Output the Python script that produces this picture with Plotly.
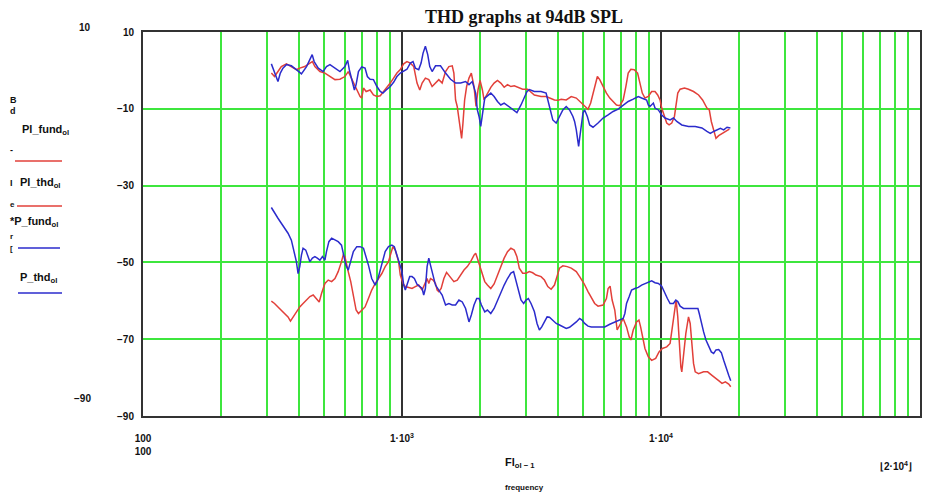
import plotly.graph_objects as go

# ---------------- data (frequency in Hz, level in dB) ----------------
freq_p1_fund = [313, 322, 332, 342, 358, 374, 391, 403, 421, 441, 451, 461, 482, 504, 527, 551, 576, 602, 620, 634,
                649, 669, 689, 699, 710, 727, 753, 776, 800, 824, 849, 874, 901, 928, 956, 985, 1015, 1045, 1077, 1110,
                1143, 1171, 1196, 1231, 1269, 1307, 1347, 1387, 1429, 1473, 1517, 1563, 1586, 1610, 1634, 1659, 1684, 1699, 1719, 1745,
                1776, 1814, 1852, 1897, 1931, 1966, 2002, 2044, 2074, 2137,
                2202, 2268, 2337, 2407, 2480, 2555, 2633, 2713, 2795, 2923,
                3057, 3149, 3243, 3342, 3443, 3601, 3710, 3879, 3997, 4117,
                4306, 4502, 4709, 4924, 5073, 5226, 5351, 5464, 5580, 5680,
                5800, 5975, 6156, 6342, 6533, 6731, 6934, 7144, 7316, 7471,
                7651, 7883, 8121, 8292, 8467, 8671, 8934, 9204, 9481, 9710,
                9914, 10063, 10305, 10522, 10745, 11003, 11268, 11405, 11608, 11854,
                12323, 12770, 13355, 13967, 14474, 15045, 15363, 15640, 15968, 16305,
                16699, 17200, 17723, 18365]
db_p1_fund = [-0.7, -1.6, -0.3, 1.0, 1.7, 1.0, 0.2, 0.6, 1.0, 1.9, 2.3, 1.0, -0.3, -0.7, -1.6, -2.4, -2.3, -1.6, -0.3, -1.6,
              -3.3, -5.1, -6.8, -7.2, -4.6, -5.5, -5.1, -6.4, -6.8, -6.6, -5.5, -4.6, -3.3, -2.0, -0.7, 0.2, 1.7, 2.3, 1.9, 1.0,
              -3.3, -5.1, -3.3, -2.0, -2.4, -4.2, -3.3, -2.4, -3.3, -0.3, 1.0, 1.2, -0.7, -7.7, -9.4, -12.9, -16.4, -17.7, -13.8, -7.7,
              -4.2, -2.0, -0.7, -4.2, -9.4, -5.0, -2.6, -5.1, -7.7, -5.9,
              -4.4, -3.3, -2.6, -3.3, -4.4, -3.7, -4.2, -4.0, -4.4, -4.9,
              -4.9, -5.7, -6.4, -6.6, -6.8, -6.8, -7.2, -7.7, -7.8, -7.5,
              -7.7, -6.8, -7.2, -8.5, -9.4, -10.1, -8.5, -5.9, -3.3, -1.6,
              -2.4, -4.2, -5.9, -7.2, -8.1, -9.0, -9.2, -7.7, -4.2, -0.7,
              0.3, 0.2, -0.7, -3.3, -5.9, -7.2, -6.8, -5.5, -5.5, -6.4,
              -7.7, -9.8, -12.0, -13.7, -14.2, -13.7, -12.0, -9.4, -5.9, -4.9,
              -4.6, -4.9, -5.5, -6.4, -7.7, -9.8, -10.3, -13.3, -15.9, -17.7,
              -17.0, -16.4, -15.9, -15.3]

freq_p1_thd = [313, 322, 332, 342, 352, 363, 371, 380, 391, 403, 415, 428, 441, 454, 468, 479, 489, 504, 519, 535,
               551, 567, 584, 593, 602, 611, 620, 634, 649, 665, 679, 699, 720, 742, 764, 788, 812, 836, 861, 887,
               906, 922, 942, 956, 970, 985, 1009, 1030, 1061, 1093, 1126, 1160, 1196, 1222, 1250, 1269, 1288, 1319, 1347, 1367,
               1387, 1416, 1451, 1486, 1517, 1549, 1586, 1634, 1684, 1735, 1787, 1841, 1897, 1925, 1954, 2002, 2044, 2087, 2137,
               2202, 2268, 2337, 2407, 2480, 2555, 2633, 2713, 2778, 2837,
               2923, 3012, 3103, 3196, 3292, 3443, 3547, 3655, 3765, 3879,
               3973, 4057, 4179, 4345, 4502, 4709, 4851, 5043, 5226, 5383,
               5546, 5714, 5975, 6156, 6248, 6361, 6476, 6631, 6771, 6934,
               7144, 7361, 7538, 7651, 7812, 8049, 8218, 8342, 8467, 8671,
               8934, 9204, 9538, 9826, 10123, 10522, 10842, 11069, 11268, 11438,
               11608, 11749, 11930, 12031, 12249, 12472, 12770, 12963, 13157, 13355,
               13555, 13967, 14605, 15135, 15733, 16207, 16699, 17200, 17723, 18256, 18590]
db_p1_thd = [-60.1, -60.7, -61.6, -62.4, -63.3, -64.2, -65.3, -64.2, -62.9, -61.6, -60.7, -59.8, -58.9, -58.5, -59.4, -60.3, -58.1, -55.5, -54.6, -55.0,
             -54.2, -52.4, -49.8, -48.1, -48.5, -50.7, -52.4, -55.0, -58.5, -62.4, -63.3, -62.4, -61.6, -59.4, -57.2, -55.5, -54.2, -52.9, -51.1, -49.8,
             -47.6, -45.9, -46.8, -48.1, -49.8, -53.3, -55.5, -56.3, -56.6, -56.8, -56.3, -55.9, -57.2, -55.7, -54.2, -55.5, -54.2, -54.6, -55.5, -57.2,
             -57.6, -56.8, -54.2, -52.6, -53.3, -54.2, -55.0, -54.6, -53.3, -52.0, -51.1, -49.8, -48.1, -47.6, -48.9, -51.1, -53.3, -55.0, -55.9,
             -56.8, -55.6, -53.3, -51.1, -48.9, -47.2, -46.3, -46.8, -48.5, -51.5,
             -52.8, -52.8, -52.4, -52.7, -53.3, -53.7, -54.6, -56.3, -57.0, -55.9,
             -53.3, -51.5, -50.9, -51.1, -51.5, -52.4, -53.7, -55.5, -57.6, -59.1,
             -60.7, -61.4, -61.1, -59.4, -56.8, -56.2, -59.8, -62.4, -67.6, -66.3,
             -64.6, -66.8, -69.4, -70.2, -67.6, -65.5, -65.0, -66.8, -69.4, -72.4,
             -74.6, -75.5, -75.0, -73.3, -72.4, -72.0, -71.1, -66.8, -62.4, -59.8,
             -64.2, -71.1, -77.2, -78.5, -73.7, -68.5, -64.2, -65.9, -71.1, -76.3,
             -78.5, -79.0, -78.5, -78.5, -79.4, -80.0, -80.8, -81.5, -81.1, -81.7, -82.4]

freq_p_fund = [313, 319, 327, 332, 339, 347, 358, 374, 391, 409, 428, 441, 450, 458, 475, 496, 511, 527, 551, 576,
               602, 617, 626, 639, 655, 665, 679, 699, 720, 735, 753, 776, 800, 824, 844, 869, 901, 928, 956, 985,
               1015, 1045, 1077, 1103, 1126, 1160, 1185, 1206, 1231, 1257, 1280, 1307, 1347, 1408, 1473, 1540, 1610, 1684, 1760, 1814,
               1868, 1925, 1954, 1984, 2014, 2050, 2087,
               2202, 2268, 2337, 2407, 2480, 2594, 2713, 2778, 2880, 2967,
               3039, 3103, 3243, 3443, 3601, 3710, 3822, 3938, 4057, 4179,
               4306, 4436, 4570, 4639, 4709, 4751, 4808, 4851, 4924, 4998,
               5073, 5195, 5304, 5464, 5714, 5975, 6248, 6533, 6832, 7144,
               7471, 7812, 8169, 8417, 8801, 8934, 9068, 9342, 9481, 9768,
               10063, 10366, 10842, 11169, 11507, 12031, 12770, 13555, 14388, 15045,
               15500, 15968, 16452, 16950, 17460, 17988, 18532]
db_p_fund = [1.7, 0.2, -1.7, -2.9, -0.7, 0.6, 1.5, 1.2, 0.2, -0.9, 1.0, 2.9, 4.1, 2.3, 0.6, -0.3, 1.0, 1.5, 0.6, -0.3,
             1.0, 2.6, 0.2, -2.4, -5.1, -3.7, -0.3, 0.9, 0.6, -1.6, -2.3, -2.4, -4.2, -5.5, -5.9, -5.1, -4.2, -3.1, -1.6, -0.7,
             -0.3, 0.3, 1.9, 2.3, 0.6, 0.2, 1.9, 4.5, 6.3, 4.1, 1.0, -0.3, 1.2, 1.2, -0.7, -2.3, -3.3, -3.3, -2.9, -3.7,
             -2.9, -5.9, -10.3, -12.0, -14.6, -10.7, -7.2,
             -5.9, -6.8, -8.1, -9.0, -8.5, -9.4, -10.3, -11.0, -9.0, -7.2,
             -5.5, -5.0, -5.5, -5.5, -5.9, -9.4, -12.9, -13.7, -12.0, -10.3,
             -9.4, -10.3, -12.0, -13.3, -15.5, -18.1, -19.8, -17.7, -14.6, -11.1,
             -10.3, -12.0, -14.2, -14.8, -13.7, -12.4, -11.6, -10.7, -10.1, -9.0,
             -8.1, -7.5, -6.8, -7.2, -7.7, -9.0, -9.4, -8.5, -9.8, -10.3,
             -11.6, -12.4, -12.9, -12.4, -13.3, -14.2, -14.6, -14.6, -15.0, -15.9,
             -16.4, -15.9, -15.5, -15.1, -15.5, -14.8, -15.0]

freq_p_thd = [313, 322, 332, 342, 352, 363, 374, 380, 386, 391, 397, 403, 409, 415, 425, 434, 441, 451, 461, 471,
              482, 493, 504, 511, 522, 535, 551, 567, 584, 596, 607, 620, 634, 649, 669, 689, 710, 727, 742, 764,
              788, 805, 824, 844, 861, 887, 914, 934, 956, 979, 1000, 1015, 1030, 1045, 1071, 1093, 1116, 1143, 1171, 1196,
              1213, 1231, 1250, 1269, 1288, 1319, 1347, 1387, 1429, 1473, 1517, 1563, 1610, 1659, 1709, 1760, 1814, 1852, 1897, 1943,
              1984, 2026, 2087, 2137,
              2202, 2268, 2337, 2407, 2480, 2555, 2633, 2697, 2754, 2812,
              2880, 2949, 3012, 3075, 3149, 3243, 3322, 3392, 3464, 3547,
              3633, 3710, 3822, 3938, 4057, 4179, 4306, 4436, 4570, 4709,
              4851, 4954, 5073, 5226, 5383, 5714, 6064, 6342, 6631, 6934,
              7144, 7252, 7361, 7538, 7697, 7930, 8169, 8417, 8671, 8934,
              9204, 9481, 9768, 10063, 10214, 10366, 10585, 10842, 11169, 11405,
              11608, 11854, 12213, 12770, 13355, 13884, 14050, 14302, 14605, 14912,
              15271, 15640, 15968, 16305, 16699, 17099, 17460, 17829, 18256, 18590]
db_p_thd = [-35.7, -37.2, -38.5, -39.8, -41.1, -42.4, -44.2, -46.3, -48.1, -49.8, -52.9, -51.1, -48.1, -46.3, -46.8, -48.5, -49.8, -48.9, -48.5, -48.9,
            -49.4, -48.5, -49.4, -47.2, -44.6, -43.7, -44.2, -44.6, -45.5, -48.1, -50.7, -52.0, -49.8, -47.2, -45.9, -45.9, -46.3, -48.5, -50.7, -54.2,
            -55.9, -54.6, -52.0, -49.4, -47.2, -45.9, -45.5, -45.9, -48.1, -49.8, -52.4, -55.9, -57.2, -55.9, -53.7, -53.7, -54.2, -55.7, -56.3, -56.8,
            -58.5, -56.8, -51.1, -48.9, -50.7, -53.7, -55.9, -57.2, -58.5, -61.1, -60.7, -61.1, -61.1, -59.8, -60.3, -62.0, -65.5, -63.7, -61.1, -59.4,
            -59.4, -61.1, -62.9, -62.4,
            -63.3, -62.0, -59.8, -57.6, -55.9, -54.2, -52.8, -52.4, -54.6, -57.2,
            -59.8, -60.7, -59.8, -59.4, -60.7, -62.8, -65.9, -67.6, -66.8, -65.5,
            -64.2, -64.3, -65.0, -65.9, -66.3, -66.8, -67.2, -66.9, -66.3, -65.5,
            -64.6, -65.0, -65.9, -66.6, -66.8, -66.8, -66.8, -66.1, -65.5, -65.0,
            -64.6, -63.3, -60.7, -58.9, -57.2, -56.8, -56.5, -55.9, -55.5, -55.0,
            -54.8, -55.3, -55.5, -56.2, -57.2, -58.1, -59.4, -60.7, -60.7, -59.8,
            -60.2, -61.4, -62.0, -62.0, -62.0, -62.0, -63.3, -65.9, -68.1, -70.2,
            -72.0, -73.3, -73.7, -72.8, -72.7, -73.5, -75.5, -77.6, -79.4, -80.8]

x_major = [100, 1000, 10000, 100000]
x_major_text = ["100<br>100", "1\u00b710<sup>3</sup>", "1\u00b710<sup>4</sup>", "1\u00b710<sup>5</sup>"]
x_minor = [200, 300, 400, 500, 600, 700, 800, 900,
           2000, 3000, 4000, 5000, 6000, 7000, 8000, 9000,
           20000, 30000, 40000, 50000, 60000, 70000, 80000, 90000]
y_ticks = [10, -10, -30, -50, -70, -90]
y_tick_text = ["10", "\u221210", "\u221230", "\u221250", "\u221270", "\u221290"]

title_text = "<b>THD graphs at 94dB SPL</b>"

RED = "#e2403a"
BLUE = "#2b2bcc"
GREEN = "#3ee63e"
DARK = "#333333"

# ---------------- figure ----------------
W, H = 930, 495
L, R, T, B = 143, 920, 32, 416


def px(x):
    return (x - L) / (R - L)


def py(y):
    return (B - y) / (B - T)


fig = go.Figure()
for fx, fy, col in [(freq_p1_fund, db_p1_fund, RED), (freq_p1_thd, db_p1_thd, RED),
                    (freq_p_fund, db_p_fund, BLUE), (freq_p_thd, db_p_thd, BLUE)]:
    fig.add_trace(go.Scatter(x=fx, y=fy, mode="lines", line=dict(color=col, width=1.5),
                             showlegend=False, hoverinfo="skip"))

tick_font = dict(family="Liberation Sans", size=10, color="#111111", weight="bold")

fig.update_layout(
    width=W, height=H,
    margin=dict(l=L, r=W - R, t=T, b=H - B, autoexpand=False),
    paper_bgcolor="white", plot_bgcolor="white",
    showlegend=False,
    xaxis=dict(type="log", range=[2, 5], tickmode="array", tickvals=x_major, ticktext=x_major_text,
               showgrid=True, gridcolor=DARK, gridwidth=2, zeroline=False,
               showline=True, mirror=True, linecolor=DARK, linewidth=2,
               ticks="outside", ticklen=12, tickcolor="rgba(0,0,0,0)",
               tickfont=tick_font, automargin=False,
               minor=dict(tickmode="array", tickvals=x_minor, showgrid=True,
                          gridcolor=GREEN, gridwidth=2, ticks="")),
    yaxis=dict(range=[-90, 10], tickmode="array", tickvals=y_ticks, ticktext=y_tick_text,
               showgrid=True, gridcolor=GREEN, gridwidth=2, zeroline=False,
               showline=True, mirror=True, linecolor=DARK, linewidth=2,
               ticks="outside", ticklen=5, tickcolor="rgba(0,0,0,0)",
               tickfont=tick_font, automargin=False),
)

ann = []


def text(x, y, s, size=10, anchor="left", family="Liberation Sans", color="#111111", bold=True):
    ann.append(dict(x=px(x), y=py(y), xref="paper", yref="paper", text=s, showarrow=False,
                    xanchor=anchor, yanchor="middle",
                    font=dict(family=family, size=size, color=color,
                              weight="bold" if bold else "normal")))


# title
text(524, 17, title_text, size=18, anchor="center", family="Liberation Serif")
# y-limit labels
text(93, 28, "10", anchor="right")
text(93, 398, "\u221290", anchor="right")
# left legend block
text(8, 100, "B", size=9)
text(8, 111, "d", size=9)
text(20, 130, "Pl_fund<sub>ol</sub>", size=11)
text(8, 150, "-", size=9)
text(8, 183, "I", size=9)
text(18, 183, "Pl_thd<sub>ol</sub>", size=11)
text(8, 204, "e", size=8)
text(8, 222, "*P_fund<sub>ol</sub>", size=11)
text(8, 236, "r", size=8)
text(8, 248, "[", size=8)
text(18, 278, "P_thd<sub>ol</sub>", size=11)
# x-axis labels
text(520, 463, "Fl<sub>ol \u2212 1</sub>", size=11, anchor="center")
text(524, 487, "frequency", size=8, anchor="center")
text(896, 466, "\u230a2\u00b710<sup>4</sup>\u230b", anchor="center")

shapes = []
for (x0, x1, y, col) in [(15, 62, 161, RED), (17, 62, 206, RED), (18, 60, 248, BLUE), (18, 62, 293, BLUE)]:
    shapes.append(dict(type="line", xref="paper", yref="paper", x0=px(x0), x1=px(x1), y0=py(y), y1=py(y),
                       line=dict(color=col, width=1.6)))

fig.update_layout(annotations=ann, shapes=shapes)
fig.write_html("out.html", config={"displayModeBar": False},
               post_script="document.body.style.margin='0';document.body.style.padding='0';"
                           "document.body.style.overflow='hidden';")
